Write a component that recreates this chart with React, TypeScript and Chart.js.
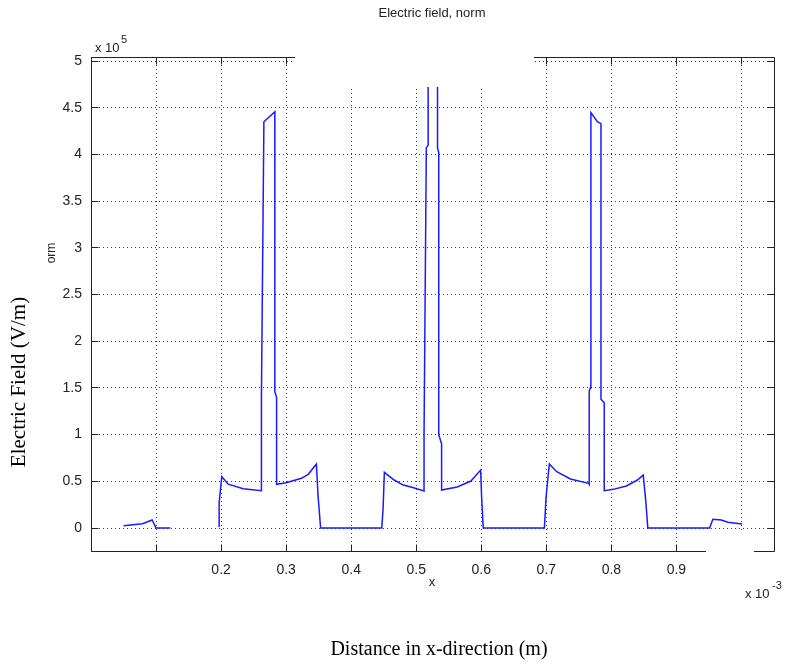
import React, { useEffect, useRef } from 'react';
import { Chart, registerables } from 'chart.js';

Chart.register(...registerables);

// x position in units of 1e-3 m
const positionX: number[] = [
  0.050, 0.079, 0.094, 0.100, 0.122,
  0.160,
  0.197, 0.197, 0.201, 0.211, 0.234, 0.262, 0.262, 0.2658, 0.2827, 0.2826, 0.2853, 0.2853,
  0.300, 0.3235, 0.334, 0.3465, 0.349, 0.353, 0.447, 0.449, 0.451, 0.466, 0.480, 0.492,
  0.512, 0.512, 0.5155, 0.5183, 0.5183, 0.5327, 0.5327, 0.5346, 0.5346, 0.539, 0.539,
  0.563, 0.584, 0.599, 0.6005, 0.603, 0.697, 0.6996, 0.7046, 0.716, 0.737, 0.765,
  0.7659, 0.7659, 0.7674, 0.7685, 0.7785, 0.784, 0.784, 0.789, 0.789,
  0.803, 0.823, 0.840, 0.849, 0.853, 0.856, 0.951, 0.956, 0.969, 0.979, 1.001,
];

// electric field norm in units of 1e5 V/m (null = gap in the curve)
const fieldNorm: (number | null)[] = [
  0.025, 0.045, 0.086, 0.0, 0.0,
  null,
  0.01, 0.27, 0.55, 0.47, 0.42, 0.40, 1.40, 4.35, 4.457, 1.46, 1.40, 0.468,
  0.485, 0.532, 0.575, 0.685, 0.35, 0.0, 0.0, 0.2, 0.596, 0.514, 0.46, 0.44,
  0.396, 1.0, 4.07, 4.10, 5.8, 5.8, 4.07, 4.02, 1.0, 0.9, 0.407,
  0.44, 0.503, 0.62, 0.335, 0.0, 0.0, 0.33, 0.685, 0.603, 0.525, 0.478,
  0.468, 1.46, 1.50, 4.447, 4.35, 4.33, 1.38, 1.34, 0.40,
  0.414, 0.45, 0.514, 0.567, 0.28, 0.0, 0.0, 0.093, 0.086, 0.061, 0.043,
];

const labelledXTicks: number[] = [0.2, 0.3, 0.4, 0.5, 0.6, 0.7, 0.8, 0.9];
const yTickLabels: string[] = ['0', '0.5', '1', '1.5', '2', '2.5', '3', '3.5', '4', '4.5', '5'];

const W = 789;
const H = 664;
const AREA = { left: 91, top: 57, right: 774, bottom: 551 };
const SANS = '"Liberation Sans", Arial, sans-serif';
const SERIF = '"Liberation Serif", "Times New Roman", serif';
const INK = '#222';

const framePlugin = {
  id: 'frameAndText',
  beforeDraw(chart: any) {
    const ctx = chart.ctx;
    ctx.save();
    ctx.fillStyle = '#fff';
    ctx.fillRect(0, 0, chart.width, chart.height);
    ctx.restore();
  },
  afterDraw(chart: any) {
    const ctx = chart.ctx;
    const { left, right, top, bottom } = chart.chartArea;
    const xs = chart.scales.x;
    const ys = chart.scales.y;
    const a = (v: number) => Math.floor(v) + 0.5;
    ctx.save();
    ctx.strokeStyle = INK;
    ctx.lineWidth = 1;
    ctx.setLineDash([]);
    ctx.beginPath();
    ctx.rect(a(left), a(top), a(right) - a(left), a(bottom) - a(top));
    ctx.stroke();
    const tl = 7;
    ctx.beginPath();
    xs.ticks.forEach((t: any) => {
      const px = a(xs.getPixelForValue(t.value));
      ctx.moveTo(px, a(bottom));
      ctx.lineTo(px, a(bottom) - tl);
      ctx.moveTo(px, a(top));
      ctx.lineTo(px, a(top) + tl);
    });
    ys.ticks.forEach((t: any) => {
      const py = a(ys.getPixelForValue(t.value));
      ctx.moveTo(a(left), py);
      ctx.lineTo(a(left) + tl, py);
      ctx.moveTo(a(right), py);
      ctx.lineTo(a(right) - tl, py);
    });
    ctx.stroke();

    // white masks (pasted-over regions of the original figure)
    ctx.fillStyle = '#fff';
    ctx.fillRect(295, 45, 239, 42);
    ctx.fillRect(706, 531, 48, 52);

    ctx.fillStyle = INK;
    ctx.textBaseline = 'middle';
    ctx.textAlign = 'center';
    ctx.font = `13px ${SANS}`;
    ctx.fillText('Electric field, norm', 432, 13);
    ctx.fillText('x', 432, 582);

    ctx.textAlign = 'left';
    ctx.font = `13px ${SANS}`;
    ctx.fillText('x 10', 95, 48);
    ctx.font = `11px ${SANS}`;
    ctx.fillText('5', 121, 40);

    ctx.font = `13px ${SANS}`;
    ctx.fillText('x 10', 745, 594);
    ctx.font = `11px ${SANS}`;
    ctx.fillText('-3', 772, 586);

    ctx.save();
    ctx.translate(52, 253);
    ctx.rotate(-Math.PI / 2);
    ctx.textAlign = 'center';
    ctx.font = `12px ${SANS}`;
    ctx.fillText('orm', 0, 0);
    ctx.restore();

    ctx.fillStyle = '#000';
    ctx.save();
    ctx.translate(19, 382);
    ctx.rotate(-Math.PI / 2);
    ctx.textAlign = 'center';
    ctx.font = `21px ${SERIF}`;
    ctx.fillText('Electric Field (V/m)', 0, 0);
    ctx.restore();

    ctx.textAlign = 'center';
    ctx.font = `20px ${SERIF}`;
    ctx.fillText('Distance in x-direction (m)', 439, 650);
    ctx.restore();
  },
};

export default function App() {
  const canvasRef = useRef<HTMLCanvasElement | null>(null);

  useEffect(() => {
    document.body.style.margin = '0';
    const canvas = canvasRef.current;
    if (!canvas) return;
    const points = positionX.map((x, i) => ({ x, y: fieldNorm[i] }));
    const chart = new Chart(canvas, {
      type: 'line',
      data: {
        datasets: [
          {
            data: points as any,
            borderColor: '#1a1aff',
            borderWidth: 1.5,
            pointRadius: 0,
            tension: 0,
            spanGaps: false,
            fill: false,
          },
        ],
      },
      options: {
        responsive: false,
        animation: false,
        events: [],
        layout: { padding: { left: 0, top: AREA.top, right: W - AREA.right, bottom: 0 } },
        plugins: { legend: { display: false }, title: { display: false }, tooltip: { enabled: false } },
        scales: {
          x: {
            type: 'linear',
            min: 0,
            max: 1.05,
            afterFit: (s: any) => {
              s.height = H - AREA.bottom;
            },
            ticks: {
              stepSize: 0.1,
              includeBounds: false,
              autoSkip: false,
              maxRotation: 0,
              padding: 11,
              color: INK,
              font: { family: SANS, size: 14 },
              callback: (v: any) => {
                const n = Number(v);
                const hit = labelledXTicks.find((t) => Math.abs(t - n) < 1e-6);
                return hit !== undefined ? hit.toFixed(1) : '';
              },
            },
            grid: { color: 'rgba(0,0,0,0.75)', lineWidth: 1, drawTicks: false },
            border: { display: false, dash: [1, 3] },
          },
          y: {
            type: 'linear',
            min: -0.246,
            max: 5.043,
            afterFit: (s: any) => {
              s.width = AREA.left;
            },
            ticks: {
              stepSize: 0.5,
              includeBounds: false,
              autoSkip: false,
              padding: 9,
              color: INK,
              font: { family: SANS, size: 14 },
              callback: (v: any) => {
                const idx = Math.round(Number(v) / 0.5);
                return yTickLabels[idx] ?? '';
              },
            },
            grid: { color: 'rgba(0,0,0,0.75)', lineWidth: 1, drawTicks: false },
            border: { display: false, dash: [1, 3] },
          },
        },
      },
      plugins: [framePlugin],
    });
    return () => chart.destroy();
  }, []);

  return (
    <div style={{ width: W, height: H, background: '#fff' }}>
      <canvas ref={canvasRef} width={W} height={H} style={{ display: 'block', width: W, height: H }} />
    </div>
  );
}
